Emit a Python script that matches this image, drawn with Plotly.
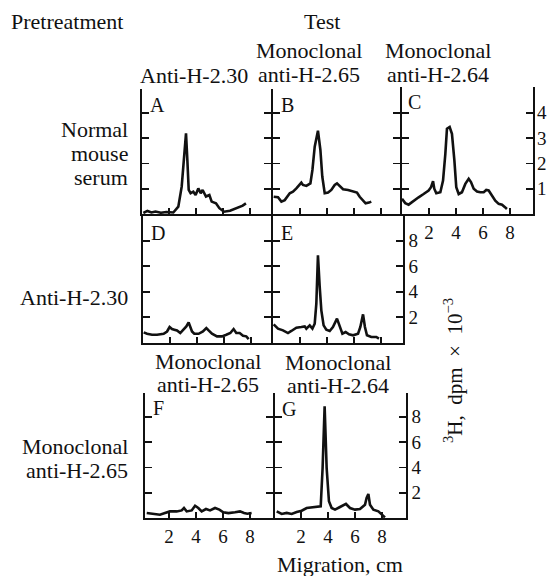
import plotly.graph_objects as go

# ---------------- data (migration cm, 3H dpm x 10^-3) ----------------
a_x = [0.1, 0.4, 0.7, 1.0, 1.4, 1.8, 2.32, 2.69, 2.94, 3.11, 3.26, 3.36, 3.46, 3.6, 3.8, 3.97, 4.17, 4.35, 4.49, 4.74, 4.99, 5.16, 5.48, 5.73, 6.07, 6.52, 7.01, 7.46, 7.7]
a_y = [0.04, 0.12, 0.06, 0.1, 0.05, 0.08, 0.06, 0.29, 1.08, 2.13, 3.19, 2.13, 0.95, 0.82, 0.88, 0.75, 1.01, 0.82, 0.95, 0.69, 0.75, 0.49, 0.42, 0.23, 0.09, 0.13, 0.23, 0.33, 0.42]

b_x = [0.05, 0.37, 0.62, 0.87, 1.24, 1.48, 1.73, 2.1, 2.22, 2.47, 2.77, 2.92, 3.09, 3.33, 3.51, 3.65, 3.83, 4.08, 4.32, 4.57, 4.74, 4.94, 5.19, 5.56, 5.93, 6.22, 6.42, 6.67, 6.86, 7.11, 7.28]
b_y = [0.68, 0.66, 0.49, 0.55, 0.82, 0.88, 1.01, 1.24, 1.15, 1.11, 1.21, 1.74, 2.66, 3.29, 2.53, 1.48, 0.82, 0.85, 0.95, 1.15, 1.21, 1.11, 0.98, 0.95, 0.88, 0.85, 0.68, 0.55, 0.42, 0.45, 0.49]

c_x = [0.0, 0.24, 0.49, 0.86, 1.23, 1.6, 1.97, 2.15, 2.3, 2.39, 2.54, 2.84, 3.04, 3.21, 3.33, 3.53, 3.7, 3.88, 4.02, 4.2, 4.44, 4.69, 4.94, 5.11, 5.31, 5.56, 5.8, 6.05, 6.24, 6.42, 6.66, 6.91, 7.16, 7.41, 7.65, 7.77]
c_y = [0.6, 0.43, 0.37, 0.53, 0.66, 0.79, 0.93, 1.06, 1.3, 1.0, 0.82, 0.86, 1.32, 2.38, 3.37, 3.44, 3.17, 2.12, 1.06, 0.79, 0.86, 1.19, 1.39, 1.26, 1.0, 0.89, 0.86, 0.86, 0.95, 0.93, 0.73, 0.53, 0.4, 0.37, 0.26, 0.2]

d_x = [0.05, 0.3, 0.67, 1.04, 1.53, 1.78, 1.97, 2.15, 2.32, 2.52, 2.76, 3.01, 3.21, 3.38, 3.5, 3.63, 3.8, 4.12, 4.44, 4.69, 4.86, 5.11, 5.48, 5.85, 6.17, 6.47, 6.71, 6.91, 7.16, 7.41, 7.65, 7.83]
d_y = [0.83, 0.72, 0.65, 0.65, 0.72, 0.9, 1.25, 1.09, 1.04, 0.98, 0.78, 1.09, 1.3, 1.61, 1.3, 0.9, 0.72, 0.72, 0.9, 1.17, 0.98, 0.72, 0.52, 0.52, 0.65, 0.78, 1.09, 0.78, 0.78, 0.57, 0.52, 0.31]

e_x = [0.05, 0.37, 0.74, 1.11, 1.36, 1.73, 2.1, 2.35, 2.47, 2.72, 2.92, 3.09, 3.21, 3.33, 3.46, 3.58, 3.75, 3.95, 4.2, 4.44, 4.74, 4.94, 5.14, 5.38, 5.63, 5.93, 6.3, 6.47, 6.67, 6.81, 6.96, 7.28, 7.65, 7.85]
e_y = [1.46, 1.12, 0.99, 0.78, 0.94, 1.2, 1.25, 1.3, 1.12, 1.38, 1.12, 1.51, 3.07, 6.85, 4.38, 2.55, 1.38, 1.04, 0.94, 1.25, 1.9, 1.25, 0.73, 0.86, 0.68, 0.6, 0.73, 1.25, 2.24, 1.25, 0.6, 0.47, 0.47, 0.34]

f_x = [0.35, 0.84, 1.33, 1.7, 2.07, 2.57, 2.94, 3.11, 3.31, 3.68, 3.93, 4.17, 4.42, 4.74, 5.04, 5.41, 5.73, 6.02, 6.4, 6.89, 7.26, 7.56, 7.8, 8.12]
f_y = [0.39, 0.34, 0.26, 0.39, 0.52, 0.52, 0.6, 0.79, 0.52, 0.6, 0.97, 0.79, 0.52, 0.71, 0.6, 0.79, 0.66, 0.45, 0.39, 0.45, 0.52, 0.39, 0.34, 0.39]

g_x = [0.2, 0.57, 0.94, 1.31, 1.68, 2.05, 2.42, 2.79, 3.16, 3.46, 3.6, 3.75, 3.9, 4.07, 4.27, 4.52, 4.89, 5.33, 5.63, 6.0, 6.37, 6.74, 6.86, 6.99, 7.11, 7.36, 7.73, 8.05, 8.22]
g_y = [0.53, 0.32, 0.4, 0.32, 0.48, 0.58, 0.79, 0.85, 0.85, 0.92, 3.95, 8.83, 3.95, 1.32, 0.79, 0.66, 0.87, 1.11, 0.79, 0.66, 0.71, 1.05, 1.58, 1.9, 1.05, 0.66, 0.53, 0.26, 0.05]

x_ticks = [2, 4, 6, 8]
y_ticks_row1 = [1, 2, 3, 4]
y_ticks_rows23 = [2, 4, 6, 8]

panel_letters = ["A", "B", "C", "D", "E", "F", "G"]
col_headers = [["Anti-H-2.30"], ["Monoclonal", "anti-H-2.65"], ["Monoclonal", "anti-H-2.64"]]
row3_headers = [["Monoclonal", "anti-H-2.65"], ["Monoclonal", "anti-H-2.64"]]
row_labels = [["Normal", "mouse", "serum"], ["Anti-H-2.30"], ["Monoclonal", "anti-H-2.65"]]
y_title = "<sup>3</sup>H,\u00a0 dpm\u00a0 ×\u00a0 10<sup>−3</sup>"
x_title = "Migration, cm"

# ---------------- layout geometry (reference pixels) ----------------
OFF = 0            # page margin is removed by the post script below
W, H = 549, 576
FONT = "Liberation Serif"
INK = "#111111"
LW = 1.8
PX_PER_CM = 13.5


def fx(px):
    return (px - OFF) / W


def fy(py):
    return 1 - (py - OFF) / H


# (x, y, box_left, box_right, box_top, box_bottom, zero_px, px_per_unit, yticks, right_labels, x_labels, shares_right)
panels = [
    (a_x, a_y, 142, 273, 89, 214, 142, 25.3, y_ticks_row1, False, False, True),
    (b_x, b_y, 273, 402, 89, 214, 273, 25.3, y_ticks_row1, False, False, True),
    (c_x, c_y, 402, 533, 87, 214, 402, 25.3, y_ticks_row1, True, True, False),
    (d_x, d_y, 143, 273, 214, 343, 143, 12.8, y_ticks_rows23, False, False, True),
    (e_x, e_y, 273, 403, 214, 343, 273, 12.8, y_ticks_rows23, True, False, False),
    (f_x, f_y, 145, 275, 393, 518, 142, 12.65, y_ticks_rows23, False, True, True),
    (g_x, g_y, 275, 406, 393, 518, 274, 12.65, y_ticks_rows23, True, True, False),
]

ann = []


def txt(x, y, text, xanchor="center", yanchor="middle", align="center", size=22, angle=0):
    ann.append(dict(x=fx(x), y=fy(y), xref="paper", yref="paper", text=text,
                    showarrow=False, xanchor=xanchor, yanchor=yanchor, align=align,
                    textangle=angle, font=dict(family=FONT, size=size, color=INK)))


def lines(x, y0, step, parts, **kw):
    for k, p in enumerate(parts):
        txt(x, y0 + k * step, p, **kw)


fig = go.Figure()
layout = {}
for i, (xs, ys, L, R, T, B, z, ppu, yt, rlab, xlab, shares) in enumerate(panels, start=1):
    xa = "xaxis" if i == 1 else f"xaxis{i}"
    ya = "yaxis" if i == 1 else f"yaxis{i}"
    xr = "x" if i == 1 else f"x{i}"
    yr = "y" if i == 1 else f"y{i}"
    Rd = R - LW if shares else R
    fig.add_trace(go.Scatter(x=xs, y=ys, mode="lines", xaxis=xr, yaxis=yr,
                             line=dict(color=INK, width=2.6), showlegend=False,
                             hoverinfo="skip"))
    layout[xa] = dict(
        domain=[fx(L), fx(Rd)], anchor=yr,
        range=[(L - z) / PX_PER_CM, (Rd - z) / PX_PER_CM],
        tickvals=x_ticks, ticks="inside", ticklen=6, tickwidth=LW, tickcolor=INK,
        showticklabels=xlab, showline=True, linewidth=LW, linecolor=INK,
        mirror=False, showgrid=False, zeroline=False, fixedrange=True,
        tickfont=dict(family=FONT, size=19, color=INK), ticklabeloverflow="allow",
    )
    # the right-most panel of the top row sits at the page edge: its tick labels
    # are written as annotations tied to the axis scale so they are never hidden
    edge = (i == 3)
    layout[ya] = dict(
        domain=[fy(B), fy(T)], anchor=xr,
        range=[0, (B - T) / ppu],
        tickvals=yt, ticks="inside", ticklen=7, tickwidth=LW, tickcolor=INK,
        side="right" if rlab else "left", showticklabels=rlab and not edge,
        showline=True, linewidth=LW, linecolor=INK, mirror="ticks",
        showgrid=False, zeroline=False, fixedrange=True,
        tickfont=dict(family=FONT, size=19, color=INK), ticklabeloverflow="allow",
    )
    if edge:
        for t in yt:
            ann.append(dict(x=1, xref=f"{xr} domain", y=t, yref=yr, text=str(t),
                            showarrow=False, xanchor="left", yanchor="middle",
                            xshift=2, font=dict(family=FONT, size=19, color=INK)))


txt(9, 22, "Pretreatment", xanchor="left")
txt(322, 22, "Test")
lines(194, 75, 24, col_headers[0])
lines(309, 50, 24, col_headers[1])
lines(438, 50, 24, col_headers[2])
lines(208, 361, 23.5, row3_headers[0])
lines(338, 362, 23.5, row3_headers[1])
lines(130, 129, 24, row_labels[0], xanchor="right")
lines(130, 297, 24, row_labels[1], xanchor="right")
lines(130, 446, 24, row_labels[2], xanchor="right")

letter_pos = [(157, 105), (287, 105), (414, 102), (158, 233), (287, 233), (158, 408), (289, 409)]
for letter, (lx, ly) in zip(panel_letters, letter_pos):
    txt(lx, ly, letter, size=20)

txt(453, 371, y_title, angle=-90, size=21)
txt(340, 564, x_title)

fig.update_layout(
    width=W, height=H, autosize=False,
    margin=dict(l=0, r=0, t=0, b=0),
    paper_bgcolor="white", plot_bgcolor="rgba(0,0,0,0)",
    annotations=ann, showlegend=False,
    **layout,
)

fig.write_html(
    "out.html", include_plotlyjs=True,
    config={"displayModeBar": False, "staticPlot": True},
    post_script="document.body.style.margin='0';document.body.style.overflow='hidden';",
)
